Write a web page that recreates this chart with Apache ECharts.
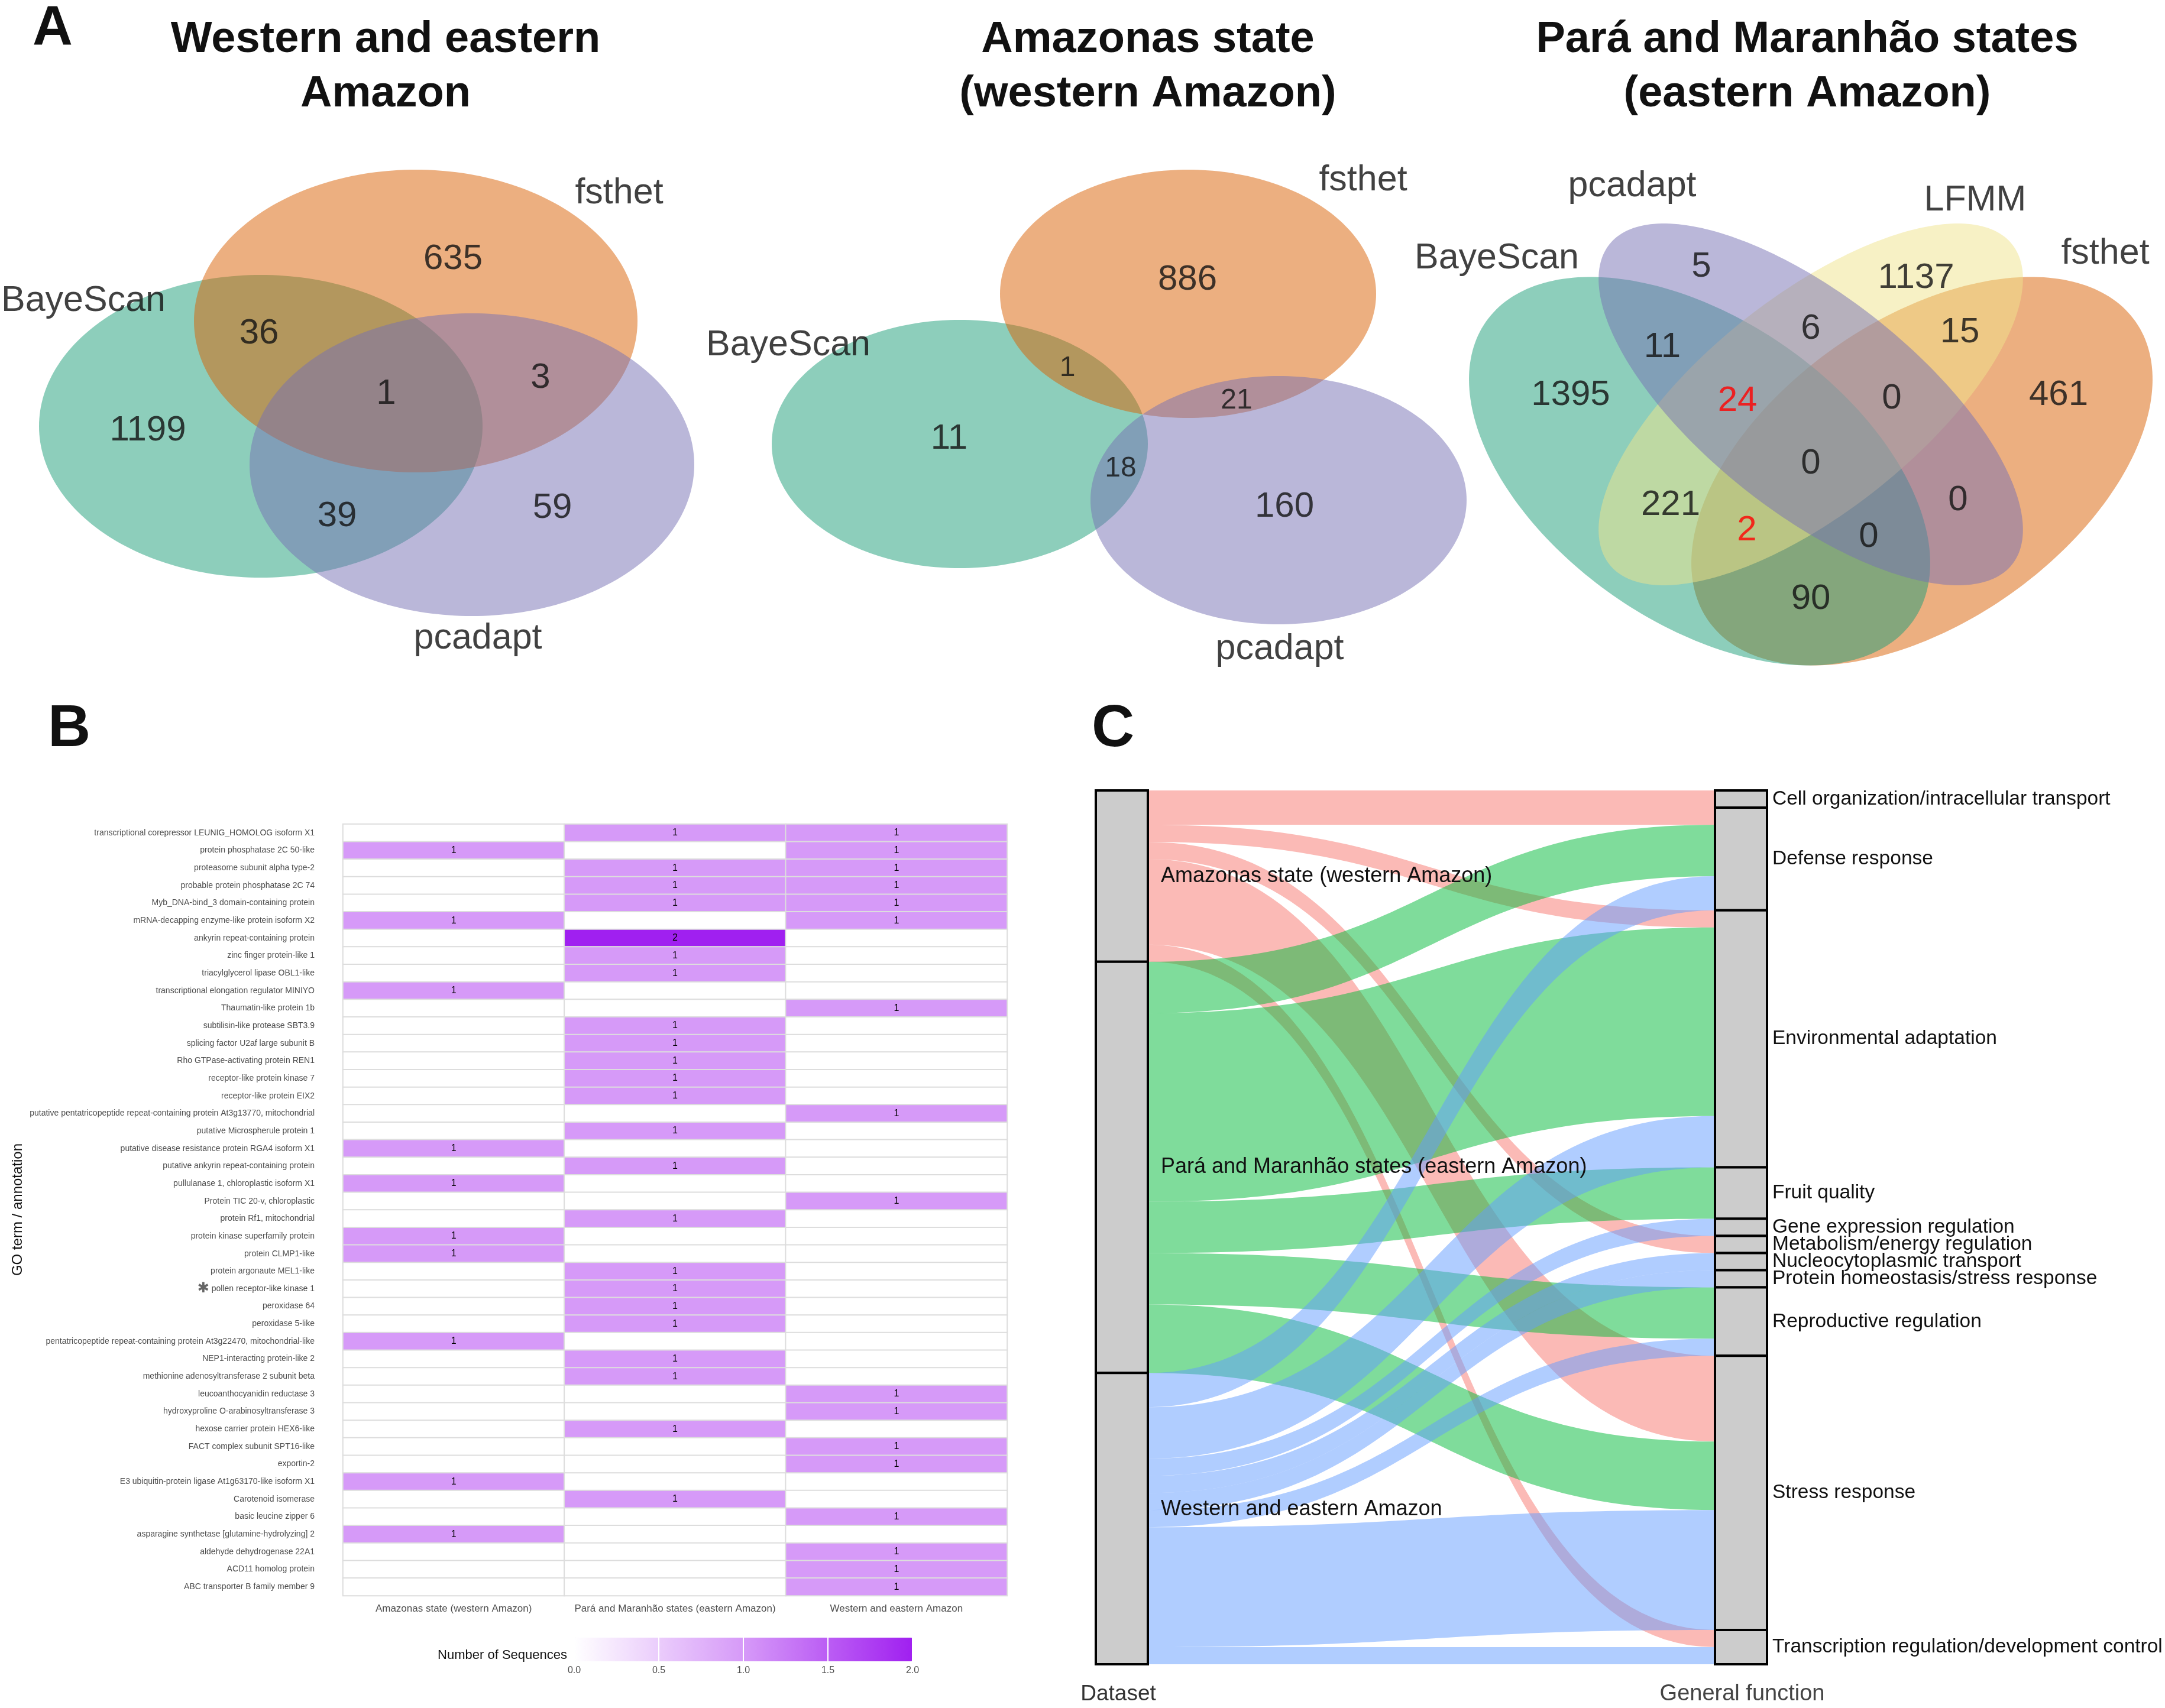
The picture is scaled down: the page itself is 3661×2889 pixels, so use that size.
<!DOCTYPE html>
<html>
<head>
<meta charset="utf-8">
<script src="https://cdn.jsdelivr.net/npm/echarts@6/dist/echarts.min.js"></script>
<style>html,body{margin:0;padding:0;background:#fff}#c{width:3661px;height:2889px}</style>
</head>
<body>
<div id="c"></div>
<script>
const FONT = '"Liberation Sans", Arial, Helvetica, sans-serif';

// ---------------- Panel A: Venn counts ----------------
const venn1Sets = ['BayeScan', 'fsthet', 'pcadapt'];
const venn1Regions = ['BayeScan', 'fsthet', 'pcadapt', 'BayeScan&fsthet', 'BayeScan&pcadapt', 'fsthet&pcadapt', 'all'];
const venn1Counts = [1199, 635, 59, 36, 39, 3, 1];

const venn2Sets = ['BayeScan', 'fsthet', 'pcadapt'];
const venn2Regions = ['BayeScan', 'fsthet', 'pcadapt', 'BayeScan&fsthet', 'BayeScan&pcadapt', 'fsthet&pcadapt'];
const venn2Counts = [11, 886, 160, 1, 18, 21];

// drawing order bottom -> top
const venn3Sets = ['fsthet', 'BayeScan', 'LFMM', 'pcadapt'];
const venn3LabelSets = ['BayeScan', 'pcadapt', 'LFMM', 'fsthet'];
const venn3Regions = ['pcadapt', 'LFMM', 'pcadapt&LFMM', 'LFMM&fsthet', 'BayeScan&pcadapt', 'BayeScan',
  'BayeScan&pcadapt&LFMM', 'pcadapt&LFMM&fsthet', 'fsthet', 'all', 'BayeScan&LFMM', 'pcadapt&fsthet',
  'BayeScan&LFMM&fsthet', 'BayeScan&pcadapt&fsthet', 'BayeScan&fsthet'];
const venn3Counts = [5, 1137, 6, 15, 11, 1395, 24, 0, 461, 0, 221, 0, 2, 0, 90];
const venn3Highlighted = ['BayeScan&pcadapt&LFMM', 'BayeScan&LFMM&fsthet'];

const vennTitles = ['Western and eastern\nAmazon', 'Amazonas state\n(western Amazon)', 'Pará and Maranhão states\n(eastern Amazon)'];

// ---------------- Panel B: heatmap ----------------
const heatColumns = ['Amazonas state (western Amazon)', 'Pará and Maranhão states (eastern Amazon)', 'Western and eastern Amazon'];
const goTerms = [
  'transcriptional corepressor LEUNIG_HOMOLOG isoform X1',
  'protein phosphatase 2C 50-like',
  'proteasome subunit alpha type-2',
  'probable protein phosphatase 2C 74',
  'Myb_DNA-bind_3 domain-containing protein',
  'mRNA-decapping enzyme-like protein isoform X2',
  'ankyrin repeat-containing protein',
  'zinc finger protein-like 1',
  'triacylglycerol lipase OBL1-like',
  'transcriptional elongation regulator MINIYO',
  'Thaumatin-like protein 1b',
  'subtilisin-like protease SBT3.9',
  'splicing factor U2af large subunit B',
  'Rho GTPase-activating protein REN1',
  'receptor-like protein kinase 7',
  'receptor-like protein EIX2',
  'putative pentatricopeptide repeat-containing protein At3g13770, mitochondrial',
  'putative Microspherule protein 1',
  'putative disease resistance protein RGA4 isoform X1',
  'putative ankyrin repeat-containing protein',
  'pullulanase 1, chloroplastic isoform X1',
  'Protein TIC 20-v, chloroplastic',
  'protein Rf1, mitochondrial',
  'protein kinase superfamily protein',
  'protein CLMP1-like',
  'protein argonaute MEL1-like',
  'pollen receptor-like kinase 1',
  'peroxidase 64',
  'peroxidase 5-like',
  'pentatricopeptide repeat-containing protein At3g22470, mitochondrial-like',
  'NEP1-interacting protein-like 2',
  'methionine adenosyltransferase 2 subunit beta',
  'leucoanthocyanidin reductase 3',
  'hydroxyproline O-arabinosyltransferase 3',
  'hexose carrier protein HEX6-like',
  'FACT complex subunit SPT16-like',
  'exportin-2',
  'E3 ubiquitin-protein ligase At1g63170-like isoform X1',
  'Carotenoid isomerase',
  'basic leucine zipper 6',
  'asparagine synthetase [glutamine-hydrolyzing] 2',
  'aldehyde dehydrogenase 22A1',
  'ACD11 homolog protein',
  'ABC transporter B family member 9'
];
const starredTerms = ['pollen receptor-like kinase 1'];
const countsAmazonas = [0,1,0,0,0,1,0,0,0,1, 0,0,0,0,0,0,0,0,1,0, 1,0,0,1,1,0,0,0,0,1, 0,0,0,0,0,0,0,1,0,0, 1,0,0,0];
const countsPara     = [1,0,1,1,1,0,2,1,1,0, 0,1,1,1,1,1,0,1,0,1, 0,0,1,0,0,1,1,1,1,0, 1,1,0,0,1,0,0,0,1,0, 0,0,0,0];
const countsWestEast = [1,1,1,1,1,1,0,0,0,0, 1,0,0,0,0,0,1,0,0,0, 0,1,0,0,0,0,0,0,0,0, 0,0,1,1,0,1,1,0,0,1, 0,1,1,1];
const legendTicks = [0, 0.5, 1, 1.5, 2];

// ---------------- Panel C: alluvial ----------------
const datasets = ['Amazonas state (western Amazon)', 'Pará and Maranhão states (eastern Amazon)', 'Western and eastern Amazon'];
const functions = ['Cell organization/intracellular transport', 'Defense response', 'Environmental adaptation', 'Fruit quality',
  'Gene expression regulation', 'Metabolism/energy regulation', 'Nucleocytoplasmic transport',
  'Protein homeostasis/stress response', 'Reproductive regulation', 'Stress response', 'Transcription regulation/development control'];
const flowsAmazonas = [1, 1, 1, 0, 0, 1, 0, 0, 0, 5, 1];
const flowsPara     = [0, 3, 11, 3, 0, 0, 0, 0, 3, 4, 0];
const flowsWestEast = [0, 2, 3, 0, 1, 0, 1, 1, 1, 7, 1];

// ---------------- styles / layout ----------------
const SET_COLORS = { BayeScan: 'rgba(27,158,119,0.5)', fsthet: 'rgba(217,95,2,0.5)', pcadapt: 'rgba(117,112,179,0.5)', LFMM: 'rgba(240,228,140,0.5)' };
const FLOW_COLORS = ['#F8766D', '#00BA38', '#619CFF'];
const DATASET_LABEL_OFFSET = [[0, 0], [0, 0], [0, -16]];

// ellipse geometry in page pixel units of the overlay axes: cx, cy, rx, ry, clockwise angle
const VENN1_SHAPES = { BayeScan: [441, 721, 375, 256, 0], fsthet: [703, 543, 375, 256, 0], pcadapt: [798, 786, 376, 256, 0] };
const VENN2_SHAPES = { BayeScan: [1623, 751, 318, 210, 0], fsthet: [2009, 497, 318, 210, 0], pcadapt: [2162, 846, 318, 210, 0] };
const VENN3_SHAPES = { BayeScan: [2874, 797, 441, 256, 35], pcadapt: [3062, 684, 435, 182, 38.5], LFMM: [3062, 684, 435, 182, -38.5], fsthet: [3250, 797, 441, 256, -35] };
const VENN1_NUMPOS = [[250, 728], [766, 438], [934, 859], [438, 564], [570, 873], [914, 639], [653, 666]];
const VENN2_NUMPOS = [[1605, 742], [2008, 473], [2172, 857], [1805, 623], [1895, 793], [2091, 678]];
const VENN2_NUMSIZE = [60, 60, 60, 48, 48, 48];
const VENN3_NUMPOS = [[2877, 451], [3240, 470], [3062, 556], [3314, 562], [2811, 587], [2656, 668], [2938, 678], [3199, 674],
  [3481, 668], [3062, 784], [2825, 854], [3311, 846], [2954, 897], [3160, 908], [3062, 1013]];
const VENN1_LABPOS = { BayeScan: [141, 509], fsthet: [1047, 327], pcadapt: [808, 1080] };
const VENN2_LABPOS = { BayeScan: [1333, 584], fsthet: [2305, 305], pcadapt: [2164, 1098] };
const VENN3_LABPOS = { BayeScan: [2531, 437], pcadapt: [2760, 315], LFMM: [3340, 339], fsthet: [3560, 429] };

// ---------------- build series data ----------------
const heatCounts = [countsAmazonas, countsPara, countsWestEast];
const heatData = [];
heatCounts.forEach((col, j) => col.forEach((v, i) => heatData.push([j, i, v])));

const nodes = datasets.map((n, i) => ({ name: n, depth: 0, label: { position: 'right', distance: 20, fontSize: 36, offset: DATASET_LABEL_OFFSET[i] } }))
  .concat(functions.map(n => ({ name: n, depth: 1, label: { position: 'right', distance: 7, fontSize: 33.5 } })));
const links = [];
[flowsAmazonas, flowsPara, flowsWestEast].forEach((row, d) => {
  row.forEach((v, f) => {
    if (v > 0) links.push({ source: datasets[d], target: functions[f], value: v, lineStyle: { color: FLOW_COLORS[d], opacity: 0.5 } });
  });
});

function ellipseItems(shapes, sets) {
  return sets.map(s => ({ name: s, value: shapes[s], itemStyle: { color: SET_COLORS[s] } }));
}
const ellipseData = [].concat(
  ellipseItems(VENN1_SHAPES, venn1Sets),
  ellipseItems(VENN2_SHAPES, venn2Sets),
  ellipseItems(VENN3_SHAPES, venn3Sets)
);

const numberData = [];
venn1Counts.forEach((c, i) => numberData.push({ name: venn1Regions[i], value: [VENN1_NUMPOS[i][0], VENN1_NUMPOS[i][1], c], label: { fontSize: 60 } }));
venn2Counts.forEach((c, i) => numberData.push({ name: venn2Regions[i], value: [VENN2_NUMPOS[i][0], VENN2_NUMPOS[i][1], c], label: { fontSize: VENN2_NUMSIZE[i] } }));
venn3Counts.forEach((c, i) => numberData.push({ name: venn3Regions[i], value: [VENN3_NUMPOS[i][0], VENN3_NUMPOS[i][1], c],
  label: { fontSize: 60, color: venn3Highlighted.indexOf(venn3Regions[i]) >= 0 ? '#ff0000' : '#111111' } }));

const setLabelData = [];
[[venn1Sets, VENN1_LABPOS], [venn2Sets, VENN2_LABPOS], [venn3LabelSets, VENN3_LABPOS]].forEach(([sets, pos]) => {
  sets.forEach(s => setLabelData.push({ name: s, value: pos[s] }));
});

function renderEllipse(params, api) {
  const c = api.coord([api.value(0), api.value(1)]);
  const s = api.size([api.value(2), api.value(3)]);
  const phi = api.value(4) * Math.PI / 180;
  const pts = [];
  for (let k = 0; k < 240; k++) {
    const t = k / 240 * Math.PI * 2;
    const ex = s[0] * Math.cos(t), ey = s[1] * Math.sin(t);
    pts.push([c[0] + ex * Math.cos(phi) - ey * Math.sin(phi), c[1] + ex * Math.sin(phi) + ey * Math.cos(phi)]);
  }
  return { type: 'polygon', shape: { points: pts }, style: { fill: api.visual('color') } };
}

// ---------------- text annotations ----------------
const txt = (text, x, y, size, opts) => Object.assign({
  type: 'text', x: x, y: y, silent: true,
  style: Object.assign({ text: text, fontSize: size, fontFamily: FONT, fill: '#111', textAlign: 'center', textVerticalAlign: 'middle', align: 'center', verticalAlign: 'middle' }, (opts && opts.style) || {})
}, (opts && opts.el) || {});

const graphics = [
  txt('A', 89, 50, 94, { style: { fontWeight: 'bold' } }),
  txt('B', 117, 1234, 100, { style: { fontWeight: 'bold' } }),
  txt('C', 1882, 1234, 100, { style: { fontWeight: 'bold' } }),
  txt(vennTitles[0], 652, 114, 74, { style: { fontWeight: 'bold', lineHeight: 92 } }),
  txt(vennTitles[1], 1941, 114, 74, { style: { fontWeight: 'bold', lineHeight: 92 } }),
  txt(vennTitles[2], 3056, 114, 74, { style: { fontWeight: 'bold', lineHeight: 92 } }),
  txt('GO term / annotation', 30, 2046, 24, { el: { rotation: Math.PI / 2 } }),
  txt('Number of Sequences', 959, 2800, 22, { style: { textAlign: 'right', align: 'right' } }),
  txt('Dataset', 1891, 2866, 37, { style: { fill: '#333' } }),
  txt('General function', 2946, 2866, 38, { style: { fill: '#444' } })
];

const chart = echarts.init(document.getElementById('c'), null, { renderer: 'canvas' });
chart.setOption({
  animation: false,
  backgroundColor: '#ffffff',
  textStyle: { fontFamily: FONT },
  grid: [
    { left: 580, top: 1394, width: 1123, height: 1305, containLabel: false },
    { left: 971, top: 2770, width: 572, height: 40, containLabel: false },
    { left: 0, top: 0, width: 3661, height: 2889, containLabel: false }
  ],
  xAxis: [
    { gridIndex: 0, type: 'category', data: heatColumns, position: 'bottom',
      axisLine: { show: false }, axisTick: { show: false }, splitLine: { show: false },
      axisLabel: { fontSize: 17, color: '#4d4d4d', margin: 14, fontFamily: FONT, interval: 0, hideOverlap: false } },
    { gridIndex: 1, type: 'value', min: legendTicks[0], max: legendTicks[legendTicks.length - 1], interval: legendTicks[1] - legendTicks[0], z: 10,
      axisLine: { show: false }, axisTick: { show: false },
      splitLine: { show: true, lineStyle: { color: '#ffffff', width: 2 } },
      axisLabel: { fontSize: 16, color: '#4d4d4d', margin: 8, fontFamily: FONT, formatter: v => v.toFixed(1) } },
    { gridIndex: 2, type: 'value', min: 0, max: 3661, show: false }
  ],
  yAxis: [
    { gridIndex: 0, type: 'category', data: goTerms, inverse: true,
      axisLine: { show: false }, axisTick: { show: false }, splitLine: { show: false },
      axisLabel: { fontSize: 14, color: '#4d4d4d', margin: 48, fontFamily: FONT, interval: 0,
        formatter: v => starredTerms.indexOf(v) >= 0 ? '{star|✱} ' + v : v,
        rich: { star: { fontSize: 24, color: '#666666', fontFamily: '"DejaVu Sans"' } } } },
    { gridIndex: 1, type: 'value', min: 0, max: 1, show: false },
    { gridIndex: 2, type: 'value', min: 0, max: 2889, inverse: true, show: false }
  ],
  visualMap: {
    type: 'continuous', seriesIndex: 0, dimension: 2, min: 0, max: 2, orient: 'horizontal',
    left: 971, top: 2770, itemWidth: 40, itemHeight: 572, padding: 0, calculable: false,
    text: null, hoverLink: false, z: 2,
    inRange: { color: ['#ffffff', '#d69af8', '#a020f0'] }
  },
  graphic: { elements: graphics },
  series: [
    { type: 'heatmap', xAxisIndex: 0, yAxisIndex: 0, data: heatData, silent: true,
      itemStyle: { borderColor: '#dddddd', borderWidth: 2 },
      label: { show: true, fontSize: 16, color: '#000', fontFamily: FONT, formatter: p => p.value[2] > 0 ? String(p.value[2]) : '' },
      emphasis: { disabled: true } },
    { type: 'line', xAxisIndex: 1, yAxisIndex: 1, data: [], silent: true },
    { type: 'sankey', left: 1853, top: 1337, right: 673, bottom: 74, nodeWidth: 88, nodeGap: 0,
      layoutIterations: 0, draggable: false, silent: true, emphasis: { disabled: true },
      data: nodes, links: links,
      itemStyle: { color: '#cccccc', borderColor: '#000000', borderWidth: 4 },
      lineStyle: { curveness: 0.5, opacity: 0.5 },
      label: { fontSize: 36, color: '#111', fontFamily: FONT } },
    { type: 'custom', xAxisIndex: 2, yAxisIndex: 2, data: ellipseData, renderItem: renderEllipse, silent: true, z: 3 },
    { type: 'scatter', xAxisIndex: 2, yAxisIndex: 2, data: numberData, symbolSize: 1, silent: true, z: 5,
      itemStyle: { color: 'rgba(0,0,0,0)' },
      label: { show: true, position: 'inside', color: '#111', fontFamily: FONT, formatter: p => String(p.value[2]) } },
    { type: 'scatter', xAxisIndex: 2, yAxisIndex: 2, data: setLabelData, symbolSize: 1, silent: true, z: 5,
      itemStyle: { color: 'rgba(0,0,0,0)' },
      label: { show: true, position: 'inside', color: '#111', fontSize: 61, fontFamily: FONT, formatter: '{b}' } }
  ]
});
</script>
</body>
</html>
